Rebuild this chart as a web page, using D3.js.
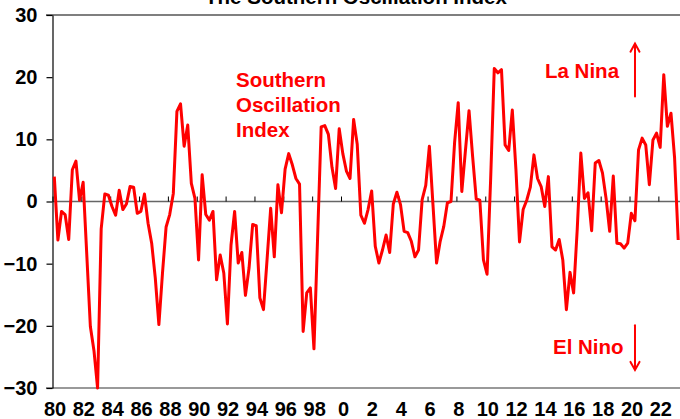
<!DOCTYPE html>
<html><head><meta charset="utf-8">
<script src="https://cdn.jsdelivr.net/npm/d3@7"></script>
<style>html,body{margin:0;padding:0;background:#fff;} svg{display:block;}</style>
</head><body><svg id="chart" width="680" height="419"></svg>
<script>
const title = "The Southern Oscillation Index";
const firstYear = 1980; // quarterly series, first value = 1980 Q1
const soi = [
  4.0, -6.2, -1.6, -2.1,  -6.1, 5.1, 6.5, 0.2,  3.1, -8.5, -20.1, -24.0,  // 80-82
  -30.0, -4.4, 1.2, 1.0,  -0.8, -2.2, 1.8, -1.3,  -0.4, 2.4, 2.3, -1.9,  // 83-85
  -1.6, 1.2, -3.5, -6.7,  -12.3, -19.8, -11.5, -4.1,  -2.1, 1.3, 14.5, 15.7, // 86-88
  8.9, 12.3, 2.9, 0.5,  -9.4, 4.3, -2.1, -3.0,  -1.6, -12.6, -8.6, -11.5,  // 89-91
  -19.7, -7.0, -1.6, -9.9,  -8.2, -15.1, -10.7, -3.7,  -3.9, -15.5, -17.4, -9.3, // 92-94
  -1.1, -8.9, 2.7, -1.8,  5.2, 7.7, 5.9, 3.7,  2.8, -20.9, -14.7, -13.9,  // 95-97
  -23.7, -6.0, 12.0, 12.2,  10.8, 5.5, 2.1, 11.7,  7.7, 4.9, 3.7, 13.2,  // 98-00
  9.2, -2.2, -3.5, -1.3,  1.7, -7.2, -9.9, -7.8,  -5.4, -8.2, -0.4, 1.5,  // 01-03
  -0.5, -4.8, -5.0, -6.4,  -8.9, -7.8, 0.3, 2.6,  8.9, -0.5, -9.9, -6.4,  // 04-06
  -4.0, -0.2, 0.0, 9.5,  15.9, 1.6, 8.2, 14.6,  7.2, 0.4, 0.2, -9.4,  // 07-09
  -11.7, 3.7, 21.4, 20.7,  21.2, 9.1, 8.2, 14.7,  5.2, -6.5, -1.3, 0.2,  // 10-12
  2.3, 7.5, 3.7, 2.4,  -0.8, 4.0, -7.3, -7.8,  -6.1, -9.4, -17.4, -11.4,  // 13-15
  -14.7, -4.5, 7.8, 0.5,  1.4, -4.7, 6.2, 6.6,  4.6, 0.5, -4.8, 4.1,  // 16-18
  -6.7, -6.8, -7.5, -6.7,  -1.9, -3.1, 8.3, 10.2,  9.1, 2.7, 9.9, 11.0,  // 19-21
  8.7, 20.4, 12.1, 14.2,  7.0, -6.2  // 22-23
];
const yTicks = [-30, -20, -10, 0, 10, 20, 30];
const xTickYears = [1980,1982,1984,1986,1988,1990,1992,1994,1996,1998,2000,2002,2004,2006,2008,2010,2012,2014,2016,2018,2020,2022];
const xTickLabels = ["80","82","84","86","88","90","92","94","96","98","0","2","4","6","8","10","12","14","16","18","20","22"];
const seriesLabel = ["Southern", "Oscillation", "Index"];
const laNina = "La Nina";
const elNino = "El Nino";

const FONT = "'Liberation Sans', Arial, Helvetica, sans-serif";
const RED = "#ff0000";
const svg = d3.select("#chart");

const x = d3.scaleLinear().domain([1980, 2023.5]).range([52.5, 680]);
const y = d3.scaleLinear().domain([-30, 30]).range([388, 15]);

// title (mostly cut off at top)
svg.append("text").attr("x", 356).attr("y", 4).attr("text-anchor", "middle")
  .attr("font-family", FONT).attr("font-weight", "bold").attr("font-size", "20.5px")
  .attr("fill", "#000").text(title);

// top and bottom frame lines
svg.append("line").attr("x1", 46).attr("x2", 680).attr("y1", y(30)).attr("y2", y(30))
  .attr("stroke", "#000").attr("stroke-width", 1.2);
svg.append("line").attr("x1", 46).attr("x2", 680).attr("y1", y(-30)).attr("y2", y(-30))
  .attr("stroke", "#777").attr("stroke-width", 1.6);

// zero line axis with upward ticks
const zeroAxis = svg.append("g").attr("transform", `translate(0,${y(0)})`)
  .call(d3.axisBottom(x).tickValues(xTickYears).tickSize(-5).tickSizeOuter(0).tickFormat(""));
zeroAxis.select(".domain").attr("stroke", "#666").attr("stroke-width", 1.6)
  .attr("d", `M${x(1980)},0H680`);
zeroAxis.selectAll(".tick line").attr("stroke", "#000").attr("stroke-width", 1);

// x labels below plot
const labAxis = svg.append("g").attr("transform", `translate(0,${y(-30)})`)
  .call(d3.axisBottom(x).tickValues(xTickYears).tickSize(0).tickPadding(13.5)
    .tickFormat((d, i) => xTickLabels[i]));
labAxis.select(".domain").remove();
labAxis.selectAll("text").attr("font-family", FONT).attr("font-weight", "bold")
  .attr("font-size", "20px").attr("fill", "#000").attr("dx", 2);

// y axis
const yAxis = svg.append("g").attr("transform", `translate(${x(1980)},0)`)
  .call(d3.axisLeft(y).tickValues(yTicks).tickSize(6).tickSizeOuter(0).tickPadding(9));
yAxis.select(".domain").attr("stroke", "#000").attr("stroke-width", 1.2);
yAxis.selectAll(".tick line").attr("stroke", "#000").attr("stroke-width", 1.2);
yAxis.selectAll("text").attr("font-family", FONT).attr("font-weight", "bold")
  .attr("font-size", "20px").attr("fill", "#000");

// SOI line
const line = d3.line()
  .x((d, i) => x(firstYear + (i + 0.5) / 4))
  .y(d => y(d));
svg.append("path").datum(soi).attr("d", line)
  .attr("fill", "none").attr("stroke", RED).attr("stroke-width", 3)
  .attr("stroke-linejoin", "round");

// annotations
const ann = svg.append("g").attr("font-family", FONT).attr("font-weight", "bold")
  .attr("font-size", "20.5px").attr("fill", RED);
seriesLabel.forEach((t, i) => {
  ann.append("text").attr("x", 236).attr("y", 86.7 + i * 25.3).text(t);
});
ann.append("text").attr("x", 545).attr("y", 77.7).text(laNina);
ann.append("text").attr("x", 553).attr("y", 354.3).text(elNino);

// arrows
const ax = x(2020.38);
const arrows = svg.append("g").attr("stroke", RED).attr("stroke-width", 2)
  .attr("fill", "none").attr("stroke-linecap", "round");
arrows.append("line").attr("x1", ax).attr("x2", ax).attr("y1", y(16.9)).attr("y2", y(25.3));
arrows.append("path").attr("d", `M${ax - 4.5},${y(24.1)}L${ax},${y(25.4)}L${ax + 4.5},${y(24.1)}`);
arrows.append("line").attr("x1", ax).attr("x2", ax).attr("y1", y(-19.9)).attr("y2", y(-27.0));
arrows.append("path").attr("d", `M${ax - 4.5},${y(-25.8)}L${ax},${y(-27.1)}L${ax + 4.5},${y(-25.8)}`);
</script>
</body></html>
